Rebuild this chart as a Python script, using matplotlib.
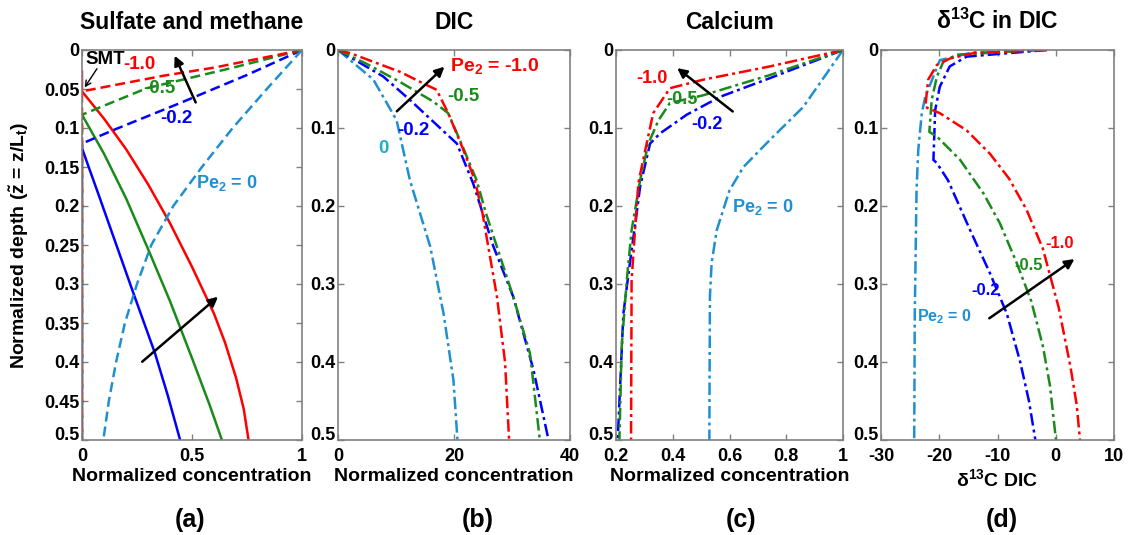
import numpy as np
import matplotlib
matplotlib.use("Agg")
import matplotlib.pyplot as plt

plt.rcParams['font.family'] = ['Liberation Sans', 'DejaVu Sans']
plt.rcParams['font.weight'] = 'bold'
plt.rcParams['mathtext.default'] = 'regular'

RED, GREEN, BLUE, LBLUE = '#ff0000', '#1a8a1a', '#0000ff', '#1f8fd0'

# ---- (a) sulfate (dashed) and methane (solid), x = normalized conc, z = depth
so4_r_x = [1.0, 0.6, 0.37, 0.0, 0.0]
so4_r_z = [0.0, 0.0226, 0.033, 0.053, 0.5]
so4_g_x = [1.0, 0.674, 0.294, 0.0, 0.0]
so4_g_z = [0.0, 0.0235, 0.049, 0.083, 0.5]
so4_b_x = [1.0, 0.75, 0.446, 0.143, 0.0, 0.0]
so4_b_z = [0.0, 0.032, 0.068, 0.1026, 0.12, 0.5]
so4_0_x = [1.0, 0.84, 0.685, 0.545, 0.415, 0.315, 0.25, 0.195, 0.155, 0.122, 0.097]
so4_0_z = [0.0, 0.05, 0.10, 0.15, 0.20, 0.25, 0.30, 0.35, 0.40, 0.45, 0.5]

ch4_r_x = [0.0, 0.0, 0.1, 0.2, 0.3, 0.4, 0.5, 0.6, 0.65, 0.70, 0.735, 0.757]
ch4_r_z = [0.028, 0.053, 0.088, 0.127, 0.172, 0.222, 0.278, 0.338, 0.375, 0.42, 0.46, 0.5]
ch4_g_x = [0.0, 0.1, 0.2, 0.3, 0.4, 0.5, 0.58, 0.636]
ch4_g_z = [0.083, 0.133, 0.19, 0.255, 0.322, 0.395, 0.455, 0.5]
ch4_b_x = [0.0, 0.076, 0.234, 0.332, 0.39, 0.446]
ch4_b_z = [0.126, 0.186, 0.312, 0.389, 0.443, 0.5]

# ---- (b) DIC
dic_r_x = [0, 2.1, 10.7, 15.3, 17.0, 19.0, 21.4, 23.6, 24.9, 27.4, 28.8, 29.5]
dic_r_z = [0, 0.004, 0.028, 0.045, 0.051, 0.081, 0.124, 0.167, 0.209, 0.316, 0.40, 0.5]
dic_g_x = [0, 5.0, 10.7, 16.4, 19.0, 21.5, 23.9, 25.5, 30.2, 33.1, 34.8]
dic_g_z = [0, 0.018, 0.041, 0.066, 0.081, 0.124, 0.167, 0.209, 0.316, 0.389, 0.5]
dic_b_x = [0, 7.8, 12.4, 17.6, 20.5, 23.3, 26.8, 30.2, 33.7, 36.3]
dic_b_z = [0, 0.034, 0.064, 0.10, 0.12, 0.171, 0.252, 0.316, 0.41, 0.5]
dic_0_x = [0, 6.1, 10.1, 12.4, 15.9, 18.2, 19.9, 20.6]
dic_0_z = [0, 0.038, 0.09, 0.167, 0.252, 0.338, 0.423, 0.5]

# ---- (c) Calcium
ca_r_x = [1.0, 0.743, 0.508, 0.39, 0.331, 0.308, 0.279, 0.267, 0.255, 0.253]
ca_r_z = [0, 0.021, 0.038, 0.049, 0.081, 0.12, 0.17, 0.231, 0.295, 0.5]
ca_g_x = [1.0, 0.743, 0.508, 0.39, 0.35, 0.314, 0.285, 0.255, 0.238, 0.220, 0.212]
ca_g_z = [0, 0.032, 0.058, 0.068, 0.09, 0.12, 0.167, 0.231, 0.295, 0.38, 0.5]
ca_b_x = [1.0, 0.743, 0.567, 0.449, 0.355, 0.32, 0.285, 0.273, 0.249, 0.226, 0.206]
ca_b_z = [0, 0.036, 0.06, 0.083, 0.107, 0.12, 0.175, 0.209, 0.273, 0.338, 0.5]
ca_0_x = [1.0, 0.86, 0.743, 0.649, 0.60, 0.555, 0.537, 0.531, 0.529]
ca_0_z = [0, 0.073, 0.115, 0.15, 0.18, 0.231, 0.273, 0.316, 0.5]

# ---- (d) d13C in DIC
d13_r_x = [-1.5, -14.1, -18.2, -20.4, -21.9, -22.4, -19.9, -15.3, -11.3, -8.0, -5.0, -2.2, 0.5, 2.5, 3.6, 4.16]
d13_r_z = [0, 0.004, 0.011, 0.019, 0.038, 0.073, 0.081, 0.103, 0.133, 0.165, 0.205, 0.255, 0.33, 0.405, 0.455, 0.5]
d13_g_x = [-2.7, -17.0, -19.3, -20.4, -21.3, -21.7, -20.4, -16.4, -12.4, -9.6, -6.7, -4.2, -2.2, -1.0, 0.04]
d13_g_z = [0, 0.006, 0.015, 0.034, 0.064, 0.105, 0.111, 0.141, 0.184, 0.222, 0.273, 0.322, 0.38, 0.43, 0.5]
d13_b_x = [-1.5, -15.3, -18.2, -19.9, -20.7, -21.0, -20.4, -18.5, -14.7, -11.3, -8.4, -6.1, -4.6, -3.5]
d13_b_z = [0, 0.0085, 0.021, 0.047, 0.077, 0.141, 0.145, 0.167, 0.231, 0.286, 0.338, 0.40, 0.45, 0.5]
d13_0_x = [-2.7, -14.1, -19.9, -22.4, -23.0, -23.6, -23.9, -24.2, -24.3]
d13_0_z = [0, 0.003, 0.013, 0.06, 0.081, 0.128, 0.18, 0.337, 0.5]

titles = ['Sulfate and methane', 'DIC', 'Calcium', 'δ$^{13}$C in DIC']
xlabels = ['Normalized concentration', 'Normalized concentration',
           'Normalized concentration', 'δ$^{13}$C DIC']
panel_tags = ['(a)', '(b)', '(c)', '(d)']

DASH = (0, (4, 2))
DASHDOT = (0, (5, 1.6, 1.2, 1.6))
LW = 1.8

fig = plt.figure(figsize=(11.28, 5.35), dpi=100)
W, H = 1128, 535
boxes = [(82, 302), (338, 570), (616, 843), (881, 1114)]
top, bot = 50, 440
axs = []
for (l, r) in boxes:
    ax = fig.add_axes([l / W, 1 - bot / H, (r - l) / W, (bot - top) / H])
    axs.append(ax)

def style(ax, xlim, xticks, xlabs, yticks, ylabels):
    ax.set_xlim(*xlim)
    ax.set_ylim(0.5, 0)
    ax.set_xticks(xticks)
    ax.set_xticklabels(xlabs)
    ax.set_yticks(yticks)
    ax.set_yticklabels(ylabels)
    ax.tick_params(direction='in', top=True, right=True, length=4, width=1,
                   color='#808080', labelsize=13)
    ax.tick_params(axis='x', pad=6)
    ax.tick_params(axis='y', pad=2)
    for s in ax.spines.values():
        s.set_color('#808080')
        s.set_linewidth(1.2)
    for t in ax.get_xticklabels() + ax.get_yticklabels():
        t.set_fontweight('bold')
    # bottom depth label sits on the corner, just above the x labels
    ax.get_yticklabels()[-1].set_verticalalignment('baseline')

def arrow(ax, head, tail):
    ax.annotate('', xy=head, xytext=tail,
                arrowprops=dict(arrowstyle='-|>', color='black', lw=1.8, mutation_scale=14))

def label(ax, x, z, s, c, size=13.5, ha='center'):
    ax.text(x, z, s, color=c, fontsize=size, fontweight='bold', ha=ha, va='center')

yt = np.arange(0, 0.501, 0.1)
ytl = ['%g' % round(v, 1) for v in yt]

# (a)
ax = axs[0]
ax.plot(ch4_r_x, ch4_r_z, color=RED, lw=LW)
ax.plot(ch4_g_x, ch4_g_z, color=GREEN, lw=LW)
ax.plot(ch4_b_x, ch4_b_z, color=BLUE, lw=LW)
ax.plot(so4_b_x, so4_b_z, color=BLUE, lw=LW, ls=DASH)
ax.plot(so4_g_x, so4_g_z, color=GREEN, lw=LW, ls=DASH)
ax.plot(so4_r_x, so4_r_z, color=RED, lw=LW, ls=DASH)
ax.plot(so4_0_x, so4_0_z, color=LBLUE, lw=LW, ls=DASH)
yta = np.arange(0, 0.501, 0.05)
style(ax, (0, 1), [0, 0.5, 1], ['0', '0.5', '1'], yta, ['%g' % round(v, 2) for v in yta])
ax.text(0.015, 0.012, 'SMT', fontsize=13.5, fontweight='bold', color='black', va='center')
ax.annotate('', xy=(0.005, 0.051), xytext=(0.075, 0.021),
            arrowprops=dict(arrowstyle='->', color='black', lw=1))
label(ax, 0.26, 0.018, '-1.0', RED)
label(ax, 0.35, 0.049, '-0.5', GREEN)
label(ax, 0.43, 0.088, '-0.2', BLUE)
label(ax, 0.66, 0.170, 'Pe$_2$ = 0', LBLUE, 13)
arrow(ax, (0.416, 0.004), (0.522, 0.0705))
arrow(ax, (0.628, 0.314), (0.264, 0.402))
ax.set_ylabel(r'Normalized depth ($\tilde{z}$ = z/L$_t$)', fontsize=14, fontweight='bold', labelpad=9)

# (b)
ax = axs[1]
ax.plot(dic_0_x, dic_0_z, color=LBLUE, lw=LW, ls=DASHDOT)
ax.plot(dic_b_x, dic_b_z, color=BLUE, lw=LW, ls=DASHDOT)
ax.plot(dic_g_x, dic_g_z, color=GREEN, lw=LW, ls=DASHDOT)
ax.plot(dic_r_x, dic_r_z, color=RED, lw=LW, ls=DASHDOT)
style(ax, (0, 40), [0, 20, 40], ['0', '20', '40'], yt, ytl)
arrow(ax, (18.7, 0.019), (9.8, 0.081))
label(ax, 19.3, 0.021, 'Pe$_2$ = -1.0', RED, 14, ha='left')
label(ax, 18.9, 0.06, '-0.5', GREEN, ha='left')
label(ax, 10.2, 0.103, '-0.2', BLUE, ha='left')
label(ax, 7.8, 0.126, '0', '#20b0c0')

# (c)
ax = axs[2]
ax.plot(ca_0_x, ca_0_z, color=LBLUE, lw=LW, ls=DASHDOT)
ax.plot(ca_b_x, ca_b_z, color=BLUE, lw=LW, ls=DASHDOT)
ax.plot(ca_g_x, ca_g_z, color=GREEN, lw=LW, ls=DASHDOT)
ax.plot(ca_r_x, ca_r_z, color=RED, lw=LW, ls=DASHDOT)
style(ax, (0.2, 1), [0.2, 0.4, 0.6, 0.8, 1.0], ['0.2', '0.4', '0.6', '0.8', '1'], yt, ytl)
label(ax, 0.327, 0.036, '-1.0', RED, 13)
label(ax, 0.433, 0.064, '-0.5', GREEN, 13)
label(ax, 0.52, 0.096, '-0.2', BLUE, 13)
label(ax, 0.716, 0.201, 'Pe$_2$ = 0', LBLUE, 13)
arrow(ax, (0.408, 0.021), (0.619, 0.081))

# (d)
ax = axs[3]
ax.plot(d13_0_x, d13_0_z, color=LBLUE, lw=LW, ls=DASHDOT)
ax.plot(d13_b_x, d13_b_z, color=BLUE, lw=LW, ls=DASHDOT)
ax.plot(d13_g_x, d13_g_z, color=GREEN, lw=LW, ls=DASHDOT)
ax.plot(d13_r_x, d13_r_z, color=RED, lw=LW, ls=DASHDOT)
style(ax, (-30, 10), [-30, -20, -10, 0, 10], ['-30', '-20', '-10', '0', '10'], yt, ytl)
label(ax, 0.73, 0.248, '-1.0', RED, 12)
label(ax, -4.7, 0.276, '-0.5', GREEN, 12)
label(ax, -12.1, 0.308, '-0.2', BLUE, 12)
label(ax, -23.8, 0.342, 'Pe$_2$ = 0', LBLUE, 11.5, ha='left')
arrow(ax, (3.6, 0.266), (-11.8, 0.346))

for ax, t, xl in zip(axs, titles, xlabels):
    ax.set_title(t, fontsize=16.5, fontweight='bold', pad=15)
    ax.set_xlabel(xl, fontsize=14, fontweight='bold', labelpad=2)

tag_x = [190, 478, 741, 1002]
for x, tag in zip(tag_x, panel_tags):
    fig.text(x / W, 1 - 520 / H, tag, fontsize=18, fontweight='bold', ha='center', va='center')

fig.savefig('out.png', dpi=100)
